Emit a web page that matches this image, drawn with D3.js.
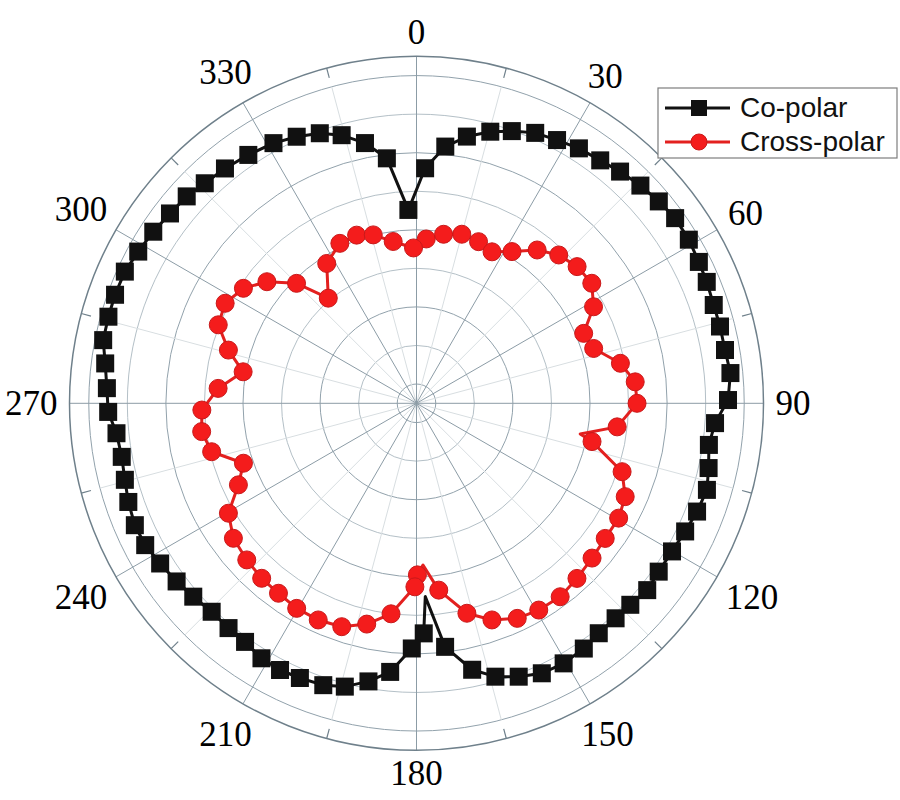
<!DOCTYPE html>
<html>
<head>
<meta charset="utf-8">
<script src="https://d3js.org/d3.v7.min.js"></script>
<style>
  html, body { margin: 0; padding: 0; background: #fff; }
</style>
</head>
<body>
<div id="chart"></div>
<script>
// angles in degrees (clockwise from top), values in dB
var coAngles = [2.1, 6.4, 10.7, 15.2, 19.3, 23.7, 28.1, 32.5, 37.1, 41.3, 45.8, 50.2, 54.4, 59.0, 63.4, 67.3, 71.7, 75.8, 80.2, 84.5, 89.4,
  93.8, 98.1, 102.5, 106.6, 111.1, 115.5, 120.1, 124.8, 129.0, 133.3, 137.2, 141.6, 145.7, 150.5, 155.1, 159.5, 163.9, 168.2, 173.3,
  177.4, 178.2,
  181.1, 185.6, 189.8, 194.2, 198.3, 203.0, 207.1, 211.3, 215.7, 219.9, 224.5, 229.1, 233.4, 238.0, 242.4, 246.6, 251.1, 255.3, 259.7, 264.3, 268.4,
  272.8, 277.3, 281.4, 285.7, 289.8, 294.3, 298.6, 303.1, 307.6, 312.0, 316.1, 320.8, 325.9, 331.2, 335.8, 340.3, 344.4, 348.8, 353.1, 357.6];
var coValues = [-12.0, -9.0, -7.3, -6.0, -5.1, -4.2, -3.8, -3.3, -3.0, -2.5, -2.0, -1.6, -1.25, -1.3, -1.55, -1.7, -1.9, -1.9, -1.9, -1.6, -2.1,
  -3.7, -4.2, -3.7, -3.2, -3.5, -3.9, -4.2, -4.25, -4.0, -4.4, -4.5, -4.45, -4.0, -3.75, -3.9, -4.65, -5.6, -7.2, -10.7,
  -17.4, -12.65,
  -10.7, -7.5, -5.9, -4.6, -4.0, -3.8, -3.65, -3.8, -4.4, -4.5, -4.6, -4.2, -3.75, -3.3, -2.8, -2.7, -3.0, -3.4, -3.65, -3.4, -2.5,
  -2.3, -1.8, -1.05, -1.0, -0.95, -1.0, -1.4, -1.75, -2.15, -2.4, -2.9, -3.2, -3.6, -4.0, -4.6, -5.3, -6.4, -8.1, -10.5, -17.4];
var coNoMarker = [177.4];

var crossAngles = [3.4, 9.1, 15.0, 21.0, 26.5, 32.2, 38.2, 43.8, 49.6, 55.6, 61.4, 67.3, 72.8, 78.9, 84.4, 90.0, 96.7, 100.6, 102.3, 108.4,
  114.1, 119.6, 125.6, 131.4, 137.5, 143.4, 149.4, 154.9, 160.8, 166.5, 173.2, 177.7, 179.7, 180.5, 186.9, 192.7, 198.5, 204.4, 210.3, 216.0,
  221.5, 227.3, 233.6, 239.7, 245.4, 250.9, 256.7, 262.5, 268.2, 274.3, 280.3, 285.8, 291.6, 297.6, 303.6, 309.1, 315.0, 320.0, 327.3, 334.4,
  340.4, 345.6, 351.8, 358.9];
var crossValues = [-21.15, -20.3, -19.8, -20.05, -20.55, -19.25, -17.2, -15.85, -15.15, -14.95, -16.35, -19.0, -18.45, -15.55, -14.0, -13.9, -16.3, -20.9, -19.2, -14.4,
  -12.85, -12.35, -12.4, -12.15, -11.7, -11.25, -11.35, -11.7, -12.75, -14.5, -18.1, -21.5, -20.25, -18.7, -15.0, -13.15, -11.95, -11.65, -11.7, -12.05,
  -12.2, -12.55, -13.0, -14.25, -17.1, -18.75, -15.2, -14.4, -14.65, -16.7, -19.65, -17.15, -14.85, -14.5, -15.55, -17.5, -20.5, -24.7, -20.95, -19.5,
  -19.35, -19.95, -21.3, -22.35];
var crossNoMarker = [100.6, 177.7];

var angleTicks = [0, 30, 60, 90, 120, 150, 180, 210, 240, 270, 300, 330];
var radialTicks = [-40, -35, -30, -25, -20, -15, -10, -5, 0];
var radialDomain = [-42.5, 2.5];
var seriesNames = ["Co-polar", "Cross-polar"];

var width = 900, height = 800;
var cx = 416.5, cy = 403.3, R = 347;

var svg = d3.select("#chart").append("svg")
    .attr("width", width)
    .attr("height", height);

var r = d3.scaleLinear().domain(radialDomain).range([0, R]);
var rad = function (deg) { return deg * Math.PI / 180; };

var g = svg.append("g").attr("transform", "translate(" + cx + "," + cy + ")");

// grid circles
g.selectAll(".rgrid").data(radialTicks).enter().append("circle")
    .attr("r", function (d) { return r(d); })
    .attr("fill", "none")
    .attr("stroke", function (d) { return d % 10 === 0 ? "#92a2ac" : "#b4c0c7"; })
    .attr("stroke-width", 1);

// minor spokes every 15 deg
var minorSpokes = d3.range(15, 360, 30);
g.selectAll(".mspoke").data(minorSpokes).enter().append("line")
    .attr("x1", 0).attr("y1", 0)
    .attr("x2", function (d) { return r(0) * Math.sin(rad(d)); })
    .attr("y2", function (d) { return -r(0) * Math.cos(rad(d)); })
    .attr("stroke", "#d8dee1")
    .attr("stroke-width", 1);

// major spokes
g.selectAll(".spoke").data(angleTicks).enter().append("line")
    .attr("x1", 0).attr("y1", 0)
    .attr("x2", function (d) { return R * Math.sin(rad(d)); })
    .attr("y2", function (d) { return -R * Math.cos(rad(d)); })
    .attr("stroke", "#8c9ca6")
    .attr("stroke-width", 1);

// outer circle + minor ticks
g.append("circle").attr("r", R).attr("fill", "none")
    .attr("stroke", "#6f808b").attr("stroke-width", 1.5);
g.selectAll(".tick").data(minorSpokes).enter().append("line")
    .attr("x1", function (d) { return (R - 10) * Math.sin(rad(d)); })
    .attr("y1", function (d) { return -(R - 10) * Math.cos(rad(d)); })
    .attr("x2", function (d) { return R * Math.sin(rad(d)); })
    .attr("y2", function (d) { return -R * Math.cos(rad(d)); })
    .attr("stroke", "#6f808b")
    .attr("stroke-width", 1.2);

var line = d3.lineRadial()
    .angle(function (d) { return rad(d.a); })
    .radius(function (d) { return r(d.v); })
    .curve(d3.curveLinearClosed);

var co = coAngles.map(function (a, i) { return { a: a, v: coValues[i] }; });
var cross = crossAngles.map(function (a, i) { return { a: a, v: crossValues[i] }; });

// co-polar
g.append("path").datum(co).attr("d", line)
    .attr("fill", "none").attr("stroke", "#111").attr("stroke-width", 3)
    .attr("stroke-linejoin", "round");
var sq = 18;
g.selectAll(".sq").data(co.filter(function (d) { return coNoMarker.indexOf(d.a) < 0; }))
    .enter().append("rect")
    .attr("x", function (d) { return r(d.v) * Math.sin(rad(d.a)) - sq / 2; })
    .attr("y", function (d) { return -r(d.v) * Math.cos(rad(d.a)) - sq / 2; })
    .attr("width", sq).attr("height", sq)
    .attr("fill", "#111");

// cross-polar
g.append("path").datum(cross).attr("d", line)
    .attr("fill", "none").attr("stroke", "#e3201f").attr("stroke-width", 3)
    .attr("stroke-linejoin", "round");
g.selectAll(".dot").data(cross.filter(function (d) { return crossNoMarker.indexOf(d.a) < 0; }))
    .enter().append("circle")
    .attr("cx", function (d) { return r(d.v) * Math.sin(rad(d.a)); })
    .attr("cy", function (d) { return -r(d.v) * Math.cos(rad(d.a)); })
    .attr("r", 9)
    .attr("fill", "#f41c1c")
    .attr("stroke", "#c8191a")
    .attr("stroke-width", 1);

// angle labels
var gap = 12;
g.selectAll(".alab").data(angleTicks).enter().append("text")
    .attr("font-family", "'Liberation Serif', 'Times New Roman', serif")
    .attr("font-size", 35)
    .attr("fill", "#000")
    .attr("text-anchor", "middle")
    .attr("dominant-baseline", "central")
    .text(function (d) { return d; })
    .each(function (d) {
        var w = this.getComputedTextLength();
        var h = 23;
        var s = Math.sin(rad(d)), c = Math.cos(rad(d));
        var ext = Math.abs(s) * w / 2 + Math.abs(c) * h / 2;
        var dist = R + gap + ext;
        d3.select(this).attr("x", dist * s).attr("y", -dist * c);
    });

// legend
var lg = svg.append("g").attr("transform", "translate(658,88)");
lg.append("rect").attr("width", 239).attr("height", 70)
    .attr("fill", "#fff").attr("stroke", "#7d7d7d").attr("stroke-width", 1.2);
var legendColors = ["#111", "#e3201f"];
seriesNames.forEach(function (name, i) {
    var y = 20 + i * 34;
    lg.append("line").attr("x1", 7).attr("x2", 72).attr("y1", y).attr("y2", y)
        .attr("stroke", legendColors[i]).attr("stroke-width", 3);
    if (i === 0) {
        lg.append("rect").attr("x", 41 - 8).attr("y", y - 8).attr("width", 16).attr("height", 16)
            .attr("fill", "#111");
    } else {
        lg.append("circle").attr("cx", 41).attr("cy", y).attr("r", 8)
            .attr("fill", "#f41c1c").attr("stroke", "#c8191a");
    }
    lg.append("text").attr("x", 82).attr("y", y + 9)
        .attr("font-family", "'Liberation Sans', Arial, sans-serif")
        .attr("font-size", 28)
        .attr("fill", "#111")
        .text(name);
});
</script>
</body>
</html>
